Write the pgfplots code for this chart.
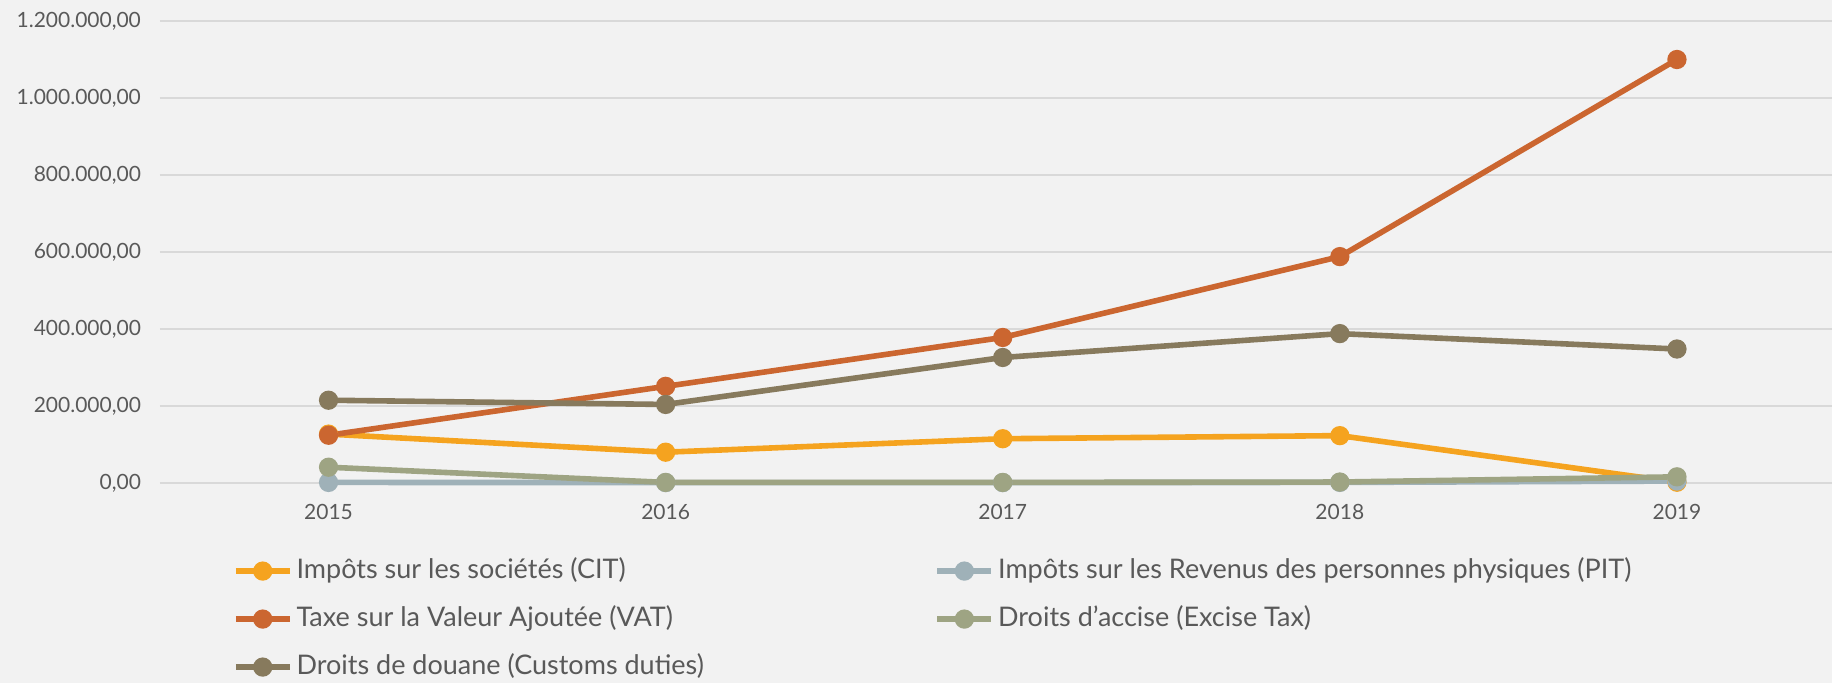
\documentclass[border=0pt]{standalone}
\usepackage{pgfplots}
\pgfplotsset{compat=1.18}
\usepackage{fontspec}
\setmainfont{Lato}
\definecolor{bg}{HTML}{F2F2F2}
\definecolor{gridc}{HTML}{D9D9D9}
\definecolor{txt}{HTML}{595959}
\definecolor{cit}{HTML}{F5A31F}
\definecolor{pit}{HTML}{9FB1B8}
\definecolor{vat}{HTML}{CB6630}
\definecolor{exc}{HTML}{9EA483}
\definecolor{cus}{HTML}{877A5D}
\begin{document}
\begin{tikzpicture}
\fill[bg] (-80pt,-100pt) rectangle (836pt,241.5pt);
\begin{axis}[
  at={(0,0)}, anchor=south west,
  scale only axis, width=836pt, height=231pt,
  xmin=-0.5, xmax=4.46, ymin=0, ymax=1200000,
  axis line style={draw=none},
  major tick length=0pt,
  xtick={0,1,2,3,4}, xticklabels={2015,2016,2017,2018,2019},
  ytick={0,200000,400000,600000,800000,1000000,1200000},
  scaled y ticks=false,
  ymajorgrids, grid style={gridc, line width=1pt},
  yticklabel={\pgfmathprintnumber[fixed, fixed zerofill, precision=2, use comma, 1000 sep={.}, assume math mode=true]{\tick}},
  ticklabel style={font=\fontsize{10.5}{12}\selectfont, text=txt},
  yticklabel style={xshift=-6pt},
  xticklabel style={yshift=-7pt},
  every axis plot/.append style={line width=2.8pt, mark=*, mark size=3.4pt},
  legend columns=2,
  legend style={at={(0.0434,-0.153)}, anchor=north west, draw=none, fill=none,
    font=\fontsize{13.5}{16}\selectfont, text=txt, inner sep=0pt, row sep=7pt,
    nodes={inner sep=2pt, text height=10pt, text depth=3pt},
    cells={anchor=west}},
  legend image code/.code={\draw[mark repeat=2,mark phase=2,#1] plot coordinates {(0pt,0pt) (13.5pt,0pt) (27pt,0pt)};},
  clip=false,
]
\addplot[cit, mark options={fill=cit, draw=cit}] coordinates {(0,127000) (1,80000) (2,115000) (3,123000) (4,2000)};
\addlegendentry{\makebox[317pt][l]{Impôts sur les sociétés (CIT)}}
\addplot[pit, mark options={fill=pit, draw=pit}] coordinates {(0,1500) (1,1000) (2,1000) (3,1500) (4,5000)};
\addlegendentry{Impôts sur les Revenus des personnes physiques (PIT)}
\addplot[vat, mark options={fill=vat, draw=vat}] coordinates {(0,124000) (1,251000) (2,378000) (3,588000) (4,1100000)};
\addlegendentry{\makebox[317pt][l]{Taxe sur la Valeur Ajoutée (VAT)}}
\addplot[exc, mark options={fill=exc, draw=exc}] coordinates {(0,41000) (1,1500) (2,1500) (3,2500) (4,16000)};
\addlegendentry{Droits d'accise (Excise Tax)}
\addplot[cus, mark options={fill=cus, draw=cus}] coordinates {(0,215000) (1,204000) (2,326000) (3,388000) (4,348000)};
\addlegendentry{Droits de douane (Customs duties)}
\end{axis}
\pgfresetboundingbox
\path (-80pt,-100pt) rectangle (836pt,241.5pt);
\end{tikzpicture}
\end{document}
